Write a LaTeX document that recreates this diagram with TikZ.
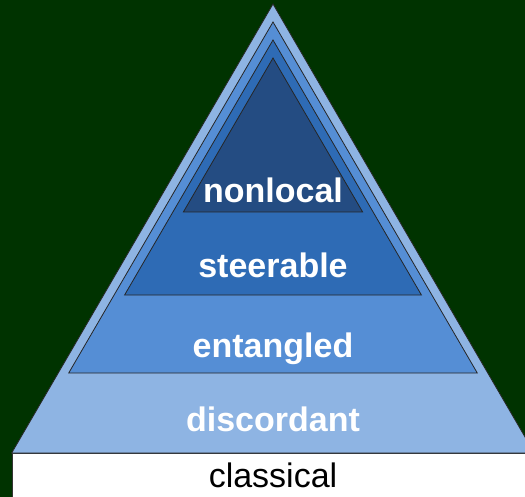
\documentclass[tikz,border=0pt]{standalone}
\usepackage{fontspec}
\usepackage{tikz}
\usetikzlibrary{calc}
\newfontfamily\labelfont{Liberation Sans}
\definecolor{bggreen}{HTML}{003300}
\definecolor{discordantblue}{HTML}{8EB4E3}
\definecolor{entangledblue}{HTML}{558ED5}
\definecolor{steerableblue}{HTML}{2E6BB5}
\definecolor{nonlocalblue}{HTML}{244C82}
\tikzstyle{layer}=[draw=black!85,line width=0.8pt,line join=miter]
\tikzstyle{levellabel}=[anchor=base,inner sep=0pt,text=white,font=\labelfont\bfseries\fontsize{34}{40}\selectfont]
\tikzstyle{baselabel}=[anchor=base,inner sep=0pt,text=black,font=\labelfont\fontsize{34}{40}\selectfont]
\begin{document}
\begin{tikzpicture}[x=1pt,y=-1pt]
    % Fix the frame and the backdrop
    \useasboundingbox (0,0) rectangle (525,497);
    \clip (0,0) rectangle (525,497);
    \fill[bggreen] (0,0) rectangle (525,497);
    \filldraw[fill=white,draw=black!80,line width=0.8pt] (12,453) rectangle (530,502);
    % Nested triangles, outermost first
    \foreach \apex/\base/\col in {4/453/discordantblue, 22/373/entangledblue,
                                  40/295/steerableblue, 58/212/nonlocalblue}
    {
        \pgfmathsetmacro{\half}{0.582*(\base-\apex)}
        \filldraw[layer, fill=\col] (273,\apex) -- (273-\half,\base)
            -- (273+\half,\base) -- cycle;
    }
    % Then the labels of the levels
    \foreach \ypos/\name in {203/nonlocal, 278/steerable, 357/entangled, 431/discordant}
        \node[levellabel] (\name) at (273,\ypos) {\name};
    \node[baselabel] (classical) at (273,487) {classical};
\end{tikzpicture}
\end{document}
